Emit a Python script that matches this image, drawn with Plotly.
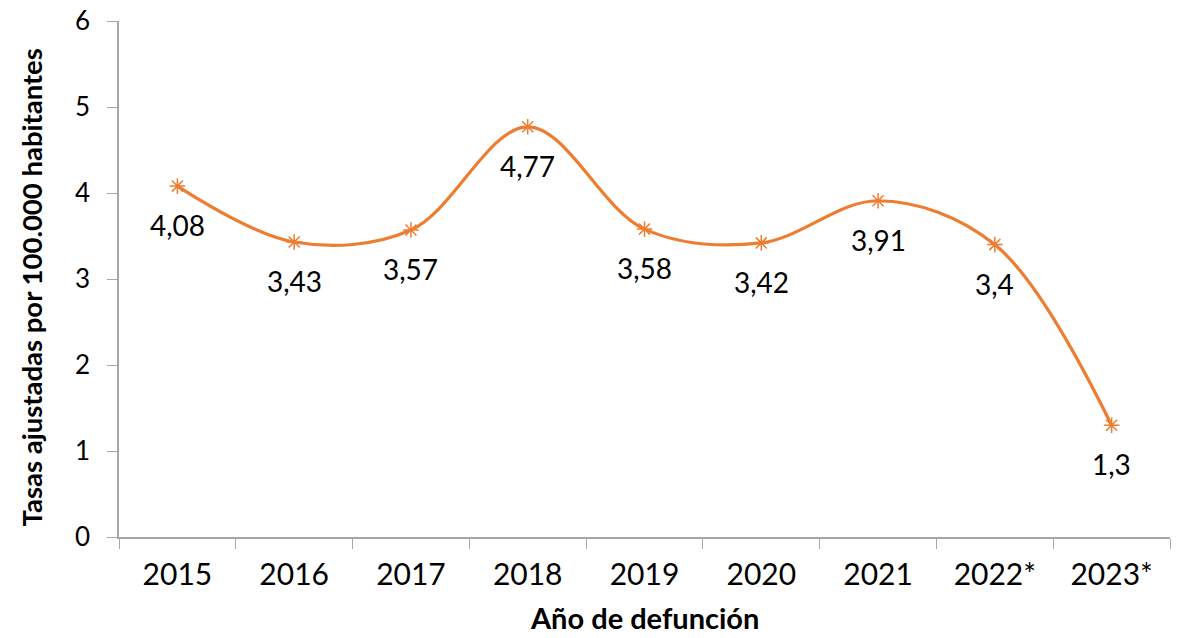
import plotly.graph_objects as go

years = ["2015", "2016", "2017", "2018", "2019", "2020", "2021", "2022*", "2023*"]
rates = [4.08, 3.43, 3.57, 4.77, 3.58, 3.42, 3.91, 3.4, 1.3]
labels = [str(v).replace(".", ",") for v in rates]
y_ticks = [0, 1, 2, 3, 4, 5, 6]

FONT = "Lato"
ORANGE = "#ED7D31"
AXIS = "#A6A6A6"

fig = go.Figure()
fig.add_trace(go.Scatter(
    x=years, y=rates, mode="lines+markers",
    line=dict(color=ORANGE, width=3.2, shape="spline", smoothing=1),
    marker=dict(symbol="asterisk-open", size=13, color=ORANGE,
                line=dict(color=ORANGE, width=1.5)),
    hoverinfo="skip", showlegend=False,
))

for i, (y, t) in enumerate(zip(rates, labels)):
    fig.add_annotation(x=i, y=y, xref="x", yref="y", text=t, showarrow=False,
                       yshift=-39, font=dict(family=FONT, size=28, color="black"))

# axis titles
fig.add_annotation(x=0.5, y=-0.156, xref="paper", yref="paper", xanchor="center",
                   yanchor="middle", showarrow=False, text="<b>Año de defunción</b>",
                   font=dict(family=FONT, size=29, color="black"))
fig.add_annotation(x=-0.083, y=0.483, xref="paper", yref="paper", xanchor="center",
                   yanchor="middle", showarrow=False, textangle=-90,
                   text="<b>Tasas ajustadas por 100.000 habitantes</b>",
                   font=dict(family=FONT, size=27.5, color="black"))

# page body has an 8px default margin, so the figure is offset by 8px
fig.update_layout(
    width=1181, height=630,
    margin=dict(l=111, r=19, t=13, b=101),
    paper_bgcolor="white", plot_bgcolor="white",
    font=dict(family=FONT, color="black"),
)
fig.update_xaxes(
    type="category", categoryorder="array", categoryarray=years,
    range=[-0.5, len(years) - 0.5], automargin=False,
    tickson="boundaries", ticks="outside", ticklen=10, tickangle=0,
    tickcolor=AXIS, showline=True, linecolor=AXIS, linewidth=1.5,
    showgrid=False, tickfont=dict(family=FONT, size=30), ticklabeloverflow="allow",
    ticklabelstandoff=10,
)
fig.update_yaxes(
    range=[0, 6], tickvals=y_ticks, ticks="outside", ticklen=10, automargin=False,
    tickcolor=AXIS, showline=True, linecolor=AXIS, linewidth=1.5,
    showgrid=False, zeroline=False, tickfont=dict(family=FONT, size=26),
    ticklabeloverflow="allow", ticklabelstandoff=12,
)

fig.write_html("out.html")
